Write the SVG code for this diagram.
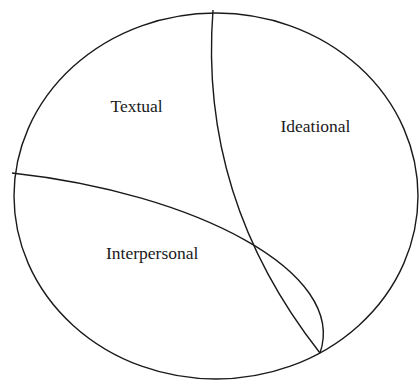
<svg xmlns="http://www.w3.org/2000/svg" width="419" height="381" viewBox="0 0 419 381">
<style>
.ln{fill:none;stroke:#1a1a1a;stroke-width:1.4}
.lb{font-family:"Liberation Serif","Times New Roman",serif;font-size:17.5px;fill:#1a1a1a}
</style>
<rect width="419" height="381" fill="#fff"/>
<g id="outer"><ellipse class="ln" cx="216" cy="196" rx="202" ry="183"/></g>
<g id="connectors">
<path class="ln" d="M213,10 C203,140 243,255 320,353"/>
<path class="ln" d="M12,173 C195,193 348,272 320,353"/>
</g>
<g id="textual"><text class="lb" x="110.5" y="111.5">Textual</text></g>
<g id="ideational"><text class="lb" x="280.5" y="132">Ideational</text></g>
<g id="interpersonal"><text class="lb" x="106" y="259">Interpersonal</text></g>
</svg>
